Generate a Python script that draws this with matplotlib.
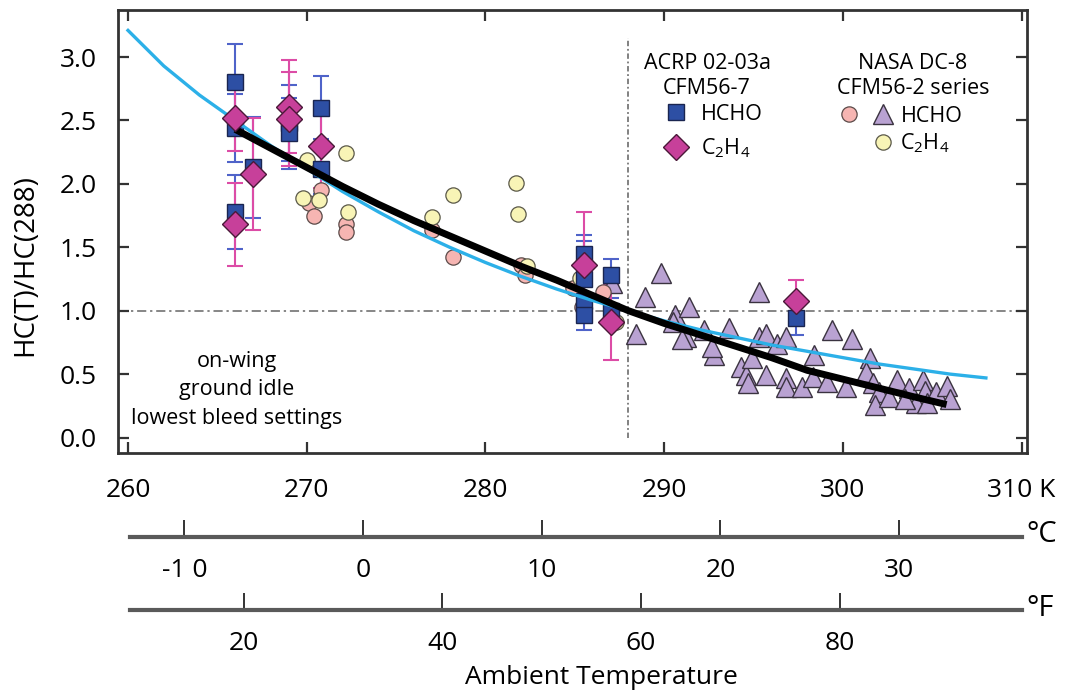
import matplotlib
matplotlib.use("Agg")
import matplotlib.pyplot as plt
from matplotlib.lines import Line2D
from matplotlib.legend_handler import HandlerTuple

plt.rcParams['font.family'] = ['Open Sans', 'DejaVu Sans']
plt.rcParams['mathtext.fontset'] = 'custom'
plt.rcParams['mathtext.rm'] = 'Open Sans'

# ---- data ----
# ACRP 02-03a, CFM56-7
sq_T = [266.0, 266.0, 266.0, 267.0, 269.0, 269.0, 270.8, 270.8,
        285.5, 285.5, 285.5, 285.5, 287.0, 287.0, 297.4]
sq_v = [2.80, 2.44, 1.78, 2.13, 2.48, 2.40, 2.60, 2.12,
        1.45, 1.25, 1.08, 0.97, 1.28, 1.00, 0.94]
sq_err = [0.30, 0.27, 0.29, 0.40, 0.30, 0.28, 0.25, 0.20,
          0.15, 0.30, 0.15, 0.12, 0.13, 0.10, 0.13]

di_T = [266.0, 266.0, 267.0, 269.0, 269.0, 270.8, 285.5, 287.0, 297.4]
di_v = [2.52, 1.68, 2.08, 2.61, 2.51, 2.30, 1.36, 0.91, 1.08]
di_err = [0.26, 0.33, 0.44, 0.37, 0.37, 0.33, 0.42, 0.30, 0.16]

# NASA DC-8, CFM56-2 series
pk_T = [270.1, 270.4, 270.8, 272.2, 272.2, 277.0, 278.2, 282.0, 282.2, 284.9, 285.4, 286.6]
pk_v = [1.85, 1.75, 1.95, 1.68, 1.62, 1.64, 1.42, 1.36, 1.28, 1.18, 1.03, 1.15]

ye_T = [270.0, 272.2, 269.8, 270.7, 272.3, 278.2, 281.7, 281.8, 277.0, 282.3, 285.3, 287.3]
ye_v = [2.19, 2.24, 1.89, 1.87, 1.78, 1.91, 2.01, 1.76, 1.74, 1.35, 1.26, 0.91]

tri_T = [287.1, 289.8, 288.9, 288.4, 290.6, 291.4, 291.2, 290.5,
         295.3, 291.0, 292.2, 293.6, 292.8, 292.7, 294.3, 294.6, 294.7, 295.3,
         295.7, 296.3, 296.8, 295.7, 296.8, 296.8, 297.7, 294.9, 298.4, 298.3,
         299.1, 299.4, 300.5, 300.2, 301.5, 301.3, 301.7, 302.0, 301.8, 303.0,
         302.6, 303.7, 304.5, 304.6, 304.1, 305.2, 305.8, 306.0, 304.7, 303.5]
tri_v = [1.22, 1.30, 1.11, 0.82, 0.97, 1.03, 0.79, 0.91,
         1.15, 0.78, 0.85, 0.86, 0.65, 0.71, 0.56, 0.49, 0.43, 0.79,
         0.82, 0.74, 0.79, 0.49, 0.47, 0.40, 0.40, 0.63, 0.65, 0.48,
         0.44, 0.85, 0.78, 0.40, 0.63, 0.52, 0.43, 0.36, 0.26, 0.45,
         0.32, 0.39, 0.45, 0.37, 0.27, 0.36, 0.41, 0.30, 0.27, 0.30]

# fitted curves
blue_T = [260, 262, 264, 266, 268, 270, 272, 274, 276, 278, 280, 282, 284,
          286, 288, 290, 292, 294, 296, 298, 300, 302, 304, 306, 308]
blue_v = [3.21, 2.93, 2.70, 2.50, 2.30, 2.12, 1.94, 1.78, 1.63, 1.50, 1.38, 1.27, 1.17,
          1.08, 1.00, 0.92, 0.85, 0.79, 0.73, 0.68, 0.63, 0.58, 0.54, 0.50, 0.47]
black_T = [266, 268, 270, 272, 274, 276, 278, 280, 282, 284, 286, 288,
           290, 292, 294, 296, 298, 300, 302, 304, 305.8]
black_v = [2.43, 2.28, 2.13, 1.98, 1.84, 1.71, 1.59, 1.47, 1.35, 1.24, 1.12, 1.00,
           0.90, 0.81, 0.72, 0.63, 0.53, 0.46, 0.39, 0.32, 0.26]

k_ticks = [260, 270, 280, 290, 300, 310]
k_labels = ['260', '270', '280', '290', '300', '310 K']
c_ticks = [-10, 0, 10, 20, 30]
c_labels = ['-1 0', '0', '10', '20', '30']
f_ticks = [20, 40, 60, 80]
y_ticks = [0.0, 0.5, 1.0, 1.5, 2.0, 2.5, 3.0]

W, H = 1069, 694
fig = plt.figure(figsize=(W / 100, H / 100), dpi=100)
ax = fig.add_axes([118 / W, 1 - 453 / H, 909 / W, 443 / H])
xlim = (259.44, 310.3)

blue_err = '#4f63c9'
pink_err = '#dc4ca6'

ax.errorbar(sq_T, sq_v, yerr=sq_err, fmt='none', ecolor=blue_err, elinewidth=1.5,
            capsize=6, capthick=1.5, zorder=2)
ax.errorbar(di_T, di_v, yerr=di_err, fmt='none', ecolor=pink_err, elinewidth=1.5,
            capsize=6, capthick=1.5, zorder=2)

tri = ax.plot(tri_T, tri_v, '^', ms=14, mfc='#b9a2d2', mec='#3a3340', mew=1, zorder=3)[0]
pk = ax.plot(pk_T, pk_v, 'o', ms=11, mfc='#f6b5b2', mec='#5a4a48', mew=0.9, zorder=3)[0]
ye = ax.plot(ye_T, ye_v, 'o', ms=11, mfc='#f8f4b6', mec='#5a5848', mew=0.9, zorder=3)[0]
sq = ax.plot(sq_T, sq_v, 's', ms=11, mfc='#2d4fa4', mec='#1a2550', mew=1, zorder=4)[0]

ax.plot(blue_T, blue_v, color='#2cb0e8', lw=2.4, zorder=5)
ax.plot(black_T, black_v, color='black', lw=5, zorder=6, solid_capstyle='butt')

di = ax.plot(di_T, di_v, 'D', ms=13, mfc='#c7409a', mec='#4a1838', mew=1, zorder=7)[0]

# reference lines at T = 288 K and ratio = 1
ax.axhline(1.0, color='#666666', lw=1.1, ls=(0, (6, 2.5, 1.5, 2.5)), zorder=1)
ax.vlines(288, 0.0, 3.15, color='#777777', lw=1.3, ls=(0, (3, 1.5, 1, 1.5)), zorder=1)

ax.set_xlim(*xlim)
ax.set_ylim(-0.122, 3.371)
ax.set_xticks(k_ticks)
ax.set_xticklabels(k_labels)
ax.set_yticks(y_ticks)
ax.set_yticklabels([f'{v:.1f}' for v in y_ticks])
ax.tick_params(axis='both', direction='in', length=8, width=1.6, color='#333333',
               labelsize=19, top=True, right=True)
ax.tick_params(axis='x', pad=18)
ax.tick_params(axis='y', pad=15)
for s in ax.spines.values():
    s.set_linewidth(2)
    s.set_color('#333333')

fig.text(25 / W, 1 - 265 / H, 'HC(T)/HC(288)', rotation=90, ha='center', va='center',
         fontsize=20)

ax.text(266.1, 0.375, 'on-wing\nground idle\nlowest bleed settings', ha='center',
        va='center', fontsize=15.5, linespacing=1.45)

# legends
c2h4 = 'C$_{\\mathregular{2}}$H$_{\\mathregular{4}}$'
fig.text(707 / W, 1 - 76 / H, 'ACRP 02-03a\nCFM56-7', ha='center', va='center',
         fontsize=15.5, linespacing=1.3)
fig.text(913 / W, 1 - 76 / H, 'NASA DC-8\nCFM56-2 series', ha='center', va='center',
         fontsize=15.5, linespacing=1.3)

leg1 = ax.legend([sq, di], ['HCHO', c2h4], loc='upper left',
                 bbox_to_anchor=(662 / W, 1 - 104 / H), bbox_transform=fig.transFigure,
                 frameon=False, fontsize=15.5, handlelength=1.3, handletextpad=0.5,
                 labelspacing=0.55, borderpad=0, borderaxespad=0)
ax.add_artist(leg1)
blank = Line2D([], [], ls='none')
ax.legend([(pk, tri), (blank, ye)], ['HCHO', c2h4], loc='upper left',
          bbox_to_anchor=(838 / W, 1 - 106 / H), bbox_transform=fig.transFigure,
          handler_map={tuple: HandlerTuple(ndivide=None, pad=0.6)},
          frameon=False, fontsize=15.5, handlelength=2.6, handletextpad=0.3,
          labelspacing=0.2, borderpad=0, borderaxespad=0)

# Celsius and Fahrenheit scales
def scale_axis(ypix, ticks_k, labels, unit):
    a = fig.add_axes([118 / W, 1 - ypix / H, 909 / W, 1e-4])
    a.set_xlim(*xlim)
    a.patch.set_visible(False)
    for side in ['left', 'right', 'top']:
        a.spines[side].set_visible(False)
    a.spines['bottom'].set_bounds(260.1, 310.0)
    a.spines['bottom'].set_linewidth(3)
    a.spines['bottom'].set_color('#5a5a5a')
    a.set_yticks([])
    a.set_xticks(ticks_k)
    a.set_xticklabels(labels)
    a.tick_params(axis='x', direction='in', length=12, width=1.4, color='#333333',
                  labelsize=19, pad=15)
    fig.text(1026 / W, 1 - (ypix - 2) / H, unit, ha='left', va='center', fontsize=21)
    return a

scale_axis(537, [c + 273.15 for c in c_ticks], c_labels, '°C')
scale_axis(610, [(f - 32) * 5 / 9 + 273.15 for f in f_ticks], [str(f) for f in f_ticks], '°F')

fig.text(601 / W, 1 - 678 / H, 'Ambient Temperature', ha='center', va='center', fontsize=19)

fig.savefig('out.png', dpi=100)
